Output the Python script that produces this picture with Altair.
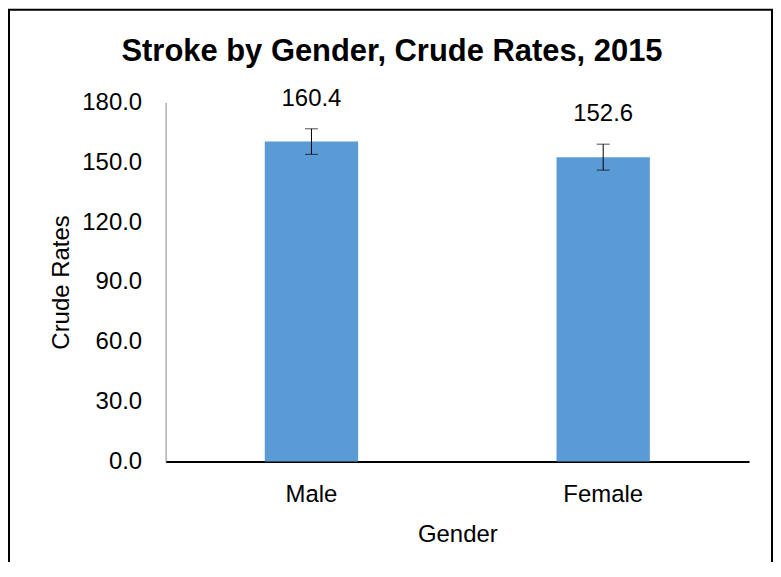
import altair as alt
import pandas as pd

genders = ["Male", "Female"]
rates = [160.4, 152.6]
ci_low = [154.0, 146.1]
ci_high = [166.8, 159.1]
labels = ["160.4", "152.6"]
title_text = ["Stroke by Gender, Crude Rates, 2015"]

df = pd.DataFrame({"Gender": genders, "Rate": rates, "Low": ci_low,
                   "High": ci_high, "Label": labels})

FONT = "Liberation Sans, Arial, sans-serif"
FS = 24

x = alt.X("Gender:N", sort=genders, title="Gender",
          scale=alt.Scale(paddingInner=0.68, paddingOuter=0.34),
          axis=alt.Axis(labelAngle=0, ticks=False, domainColor="black",
                        domainWidth=2, labelFontSize=FS, labelFont=FONT,
                        labelColor="black", labelPadding=21,
                        titleFontSize=FS, titleFont=FONT, titleColor="black",
                        titleFontWeight="normal", titlePadding=16))
y = alt.Y("Rate:Q", title="Crude Rates",
          scale=alt.Scale(domain=[0, 180], nice=False),
          axis=alt.Axis(values=[0, 30, 60, 90, 120, 150, 180], format=".1f",
                        ticks=False, grid=False, domainColor="#888888",
                        domainWidth=1, labelFontSize=FS, labelFont=FONT,
                        labelColor="black", labelPadding=24,
                        titleFontSize=FS, titleFont=FONT, titleColor="black",
                        titleFontWeight="normal", titlePadding=8))

base = alt.Chart(df)

bars = base.mark_bar(color="#5B9BD5").encode(x=x, y=y)
rule = base.mark_rule(color="black", strokeWidth=1).encode(
    x=alt.X("Gender:N", sort=genders), y="Low:Q", y2="High:Q")
cap_hi = base.mark_tick(color="black", thickness=1, size=13, orient="horizontal").encode(
    x=alt.X("Gender:N", sort=genders), y="High:Q")
cap_lo = base.mark_tick(color="black", thickness=1, size=13, orient="horizontal").encode(
    x=alt.X("Gender:N", sort=genders), y="Low:Q")
text = base.mark_text(dy=-43, baseline="middle", fontSize=FS, font=FONT,
                      color="black").encode(
    x=alt.X("Gender:N", sort=genders), y="Rate:Q", text="Label:N")

title = alt.Chart(pd.DataFrame({"t": title_text})).mark_text(
    fontSize=31, font=FONT, fontWeight="bold", color="black",
    align="center", baseline="alphabetic").encode(
    x=alt.value(227), y=alt.value(-42), text="t:N")

border = alt.Chart(pd.DataFrame({"k": [0]})).mark_rect(
    filled=False, stroke="black", strokeWidth=2).encode(
    x=alt.value(-157), x2=alt.value(608), y=alt.value(-93), y2=alt.value(520))

chart = alt.layer(bars, rule, cap_hi, cap_lo, text, title, border).properties(
    width=585, height=360,
    autosize=alt.AutoSizeParams(type="none"),
    padding={"left": 158, "top": 94, "right": 24, "bottom": 100},
).configure_view(stroke=None)

chart.save("out.html", embed_options={"renderer": "svg", "actions": False})
